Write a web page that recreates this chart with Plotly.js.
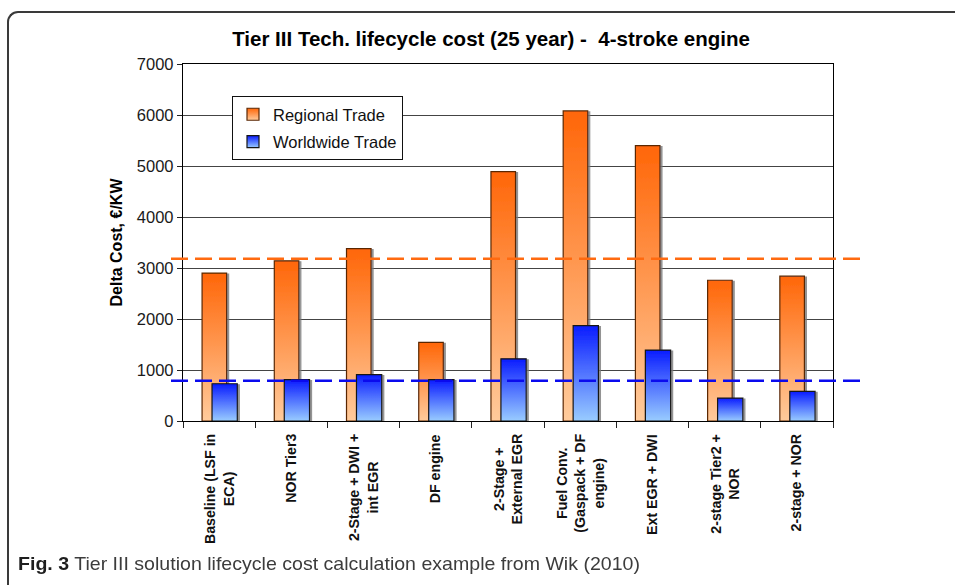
<!DOCTYPE html>
<html>
<head>
<meta charset="utf-8">
<script src="https://cdn.plot.ly/plotly-3.0.1.min.js"></script>
<style>
  html, body { margin: 0; padding: 0; background: #ffffff; }
  #wrap { position: relative; width: 955px; height: 585px; overflow: hidden; background: #fff; }
  #chart { position: absolute; left: 0; top: 0; width: 955px; height: 585px; }
  #frame { position: absolute; left: 7px; top: 11px; width: 1000px; height: 700px;
           border-left: 2px solid #3a3a3a; border-top: 2px solid #3a3a3a;
           border-top-left-radius: 11px; pointer-events: none; }
  #caption { position: absolute; left: 18px; top: 553px; white-space: nowrap;
             font-family: "Liberation Sans Narrow", "Liberation Sans", Arial, sans-serif;
             font-size: 19px; color: #3c3c3c; transform-origin: 0 0; }
  #caption b { color: #1e1e1e; }
</style>
</head>
<body>
<div id="wrap">
  <div id="chart"></div>
  <div id="frame"></div>
  <div id="caption"><b>Fig. 3</b> Tier III solution lifecycle cost calculation example from Wik (2010)</div>
</div>
<script>
// ---- data ----
const categories = ['Baseline (LSF in ECA)', 'NOR Tier3', '2-Stage + DWI + int EGR', 'DF engine',
  '2-Stage + External EGR', 'Fuel Conv. (Gaspack + DF engine)', 'Ext EGR + DWI',
  '2-stage Tier2 + NOR', '2-stage + NOR'];
const tickLabels = ['Baseline (LSF in<br>ECA)', 'NOR Tier3', '2-Stage + DWI +<br>int EGR', 'DF engine',
  '2-Stage +<br>External EGR', 'Fuel Conv.<br>(Gaspack + DF<br>engine)', 'Ext EGR + DWI',
  '2-stage Tier2 +<br>NOR', '2-stage + NOR'];
const seriesNames = ['Regional Trade', 'Worldwide Trade'];
const regional = [2900, 3140, 3380, 1540, 4890, 6080, 5400, 2760, 2840];
const worldwide = [730, 810, 910, 810, 1220, 1870, 1390, 450, 580];
const refLevels = [3180, 790];   // dashed reference lines: regional, worldwide
const yTicks = [0, 1000, 2000, 3000, 4000, 5000, 6000, 7000];

// ---- layout constants ----
const W = 955, H = 585;
const L = 183, R = 833, T = 64, B = 421;
const pw = R - L, ph = B - T;
const px = p => (p - L) / pw;
const py = p => (B - p) / ph;

const FONT = 'Liberation Sans, Arial, Helvetica, sans-serif';

const traces = [
  {
    type: 'bar', name: seriesNames[0], x: categories, y: regional,
    width: 0.34, offset: -0.236, legendgroup: 'a',
    marker: { color: '#ff8a3d', line: { color: '#5a2806', width: 1.2 } }
  },
  {
    type: 'bar', name: seriesNames[1], x: categories, y: worldwide,
    width: 0.35, offset: -0.098, legendgroup: 'b',
    marker: { color: '#4f7dff', line: { color: '#151515', width: 1.2 } }
  }
];

const refColors = ['#ff6a10', '#0a0aee'];
const shapes = refLevels.map((v, i) => ({
  type: 'line', xref: 'paper', yref: 'y',
  x0: px(171), x1: px(866), y0: v, y1: v,
  line: { color: refColors[i], width: 2.6, dash: '17px,7px' },
  layer: 'above'
}));

const annotations = tickLabels.map((t, i) => ({
  xref: 'x', yref: 'paper', x: categories[i], y: py(432),
  xanchor: 'center', yanchor: 'top', text: t, textangle: -90,
  showarrow: false, align: 'center',
  font: { family: FONT, size: 14.2, color: '#111', weight: 700 }
}));

const layout = {
  width: W, height: H,
  margin: { l: L, r: W - R, t: T, b: H - B, pad: 0 },
  paper_bgcolor: 'rgba(0,0,0,0)', plot_bgcolor: '#ffffff',
  barmode: 'overlay',
  showlegend: true,
  title: {
    text: 'Tier III Tech. lifecycle cost (25 year) -\u00a0\u00a04-stroke engine',
    x: 491 / W, xref: 'container', xanchor: 'center',
    y: 1 - 39 / H, yref: 'container', yanchor: 'middle',
    font: { family: FONT, size: 20.5, color: '#000', weight: 700 }
  },
  xaxis: {
    type: 'category', range: [-0.5, 8.5],
    showline: true, linecolor: '#000', linewidth: 1.2, mirror: true,
    ticks: 'outside', tickson: 'boundaries', ticklen: 6, tickcolor: '#222', tickwidth: 1,
    showticklabels: false, showgrid: false, zeroline: false, fixedrange: true
  },
  yaxis: {
    range: [0, 7000], tickvals: yTicks, ticktext: yTicks.map(String),
    showline: true, linecolor: '#000', linewidth: 1.2, mirror: true,
    ticks: 'outside', ticklen: 5, tickcolor: '#222', tickwidth: 1,
    showgrid: true, gridcolor: '#444', gridwidth: 1, zeroline: false,
    tickfont: { family: FONT, size: 16.5, color: '#1a1a1a' },
    title: { text: 'Delta Cost, \u20ac/KW', standoff: 10,
             font: { family: FONT, size: 16, color: '#000', weight: 700 } },
    fixedrange: true
  },
  legend: {
    x: px(232), y: py(96), xanchor: 'left', yanchor: 'top',
    bgcolor: '#ffffff', bordercolor: '#111', borderwidth: 1,
    font: { family: FONT, size: 16.5, color: '#111' },
    tracegroupgap: 3, itemwidth: 30
  },
  shapes: shapes,
  annotations: annotations
};

function addGradients(gd) {
  const svg = gd.querySelector('svg.main-svg');
  if (!svg) return;
  const NS = 'http://www.w3.org/2000/svg';
  let defs = svg.querySelector('defs');
  if (!defs) { defs = document.createElementNS(NS, 'defs'); svg.insertBefore(defs, svg.firstChild); }
  function grad(id, top, bottom) {
    const g = document.createElementNS(NS, 'linearGradient');
    g.setAttribute('id', id);
    g.setAttribute('x1', '0'); g.setAttribute('y1', '0');
    g.setAttribute('x2', '0'); g.setAttribute('y2', '1');
    [[0, top], [1, bottom]].forEach(([o, c]) => {
      const s = document.createElementNS(NS, 'stop');
      s.setAttribute('offset', o); s.setAttribute('stop-color', c);
      g.appendChild(s);
    });
    defs.appendChild(g);
  }
  grad('gradR', '#ff6608', '#ffcb9c');
  grad('gradW', '#0a1cff', '#99ccff');
  const f = document.createElementNS(NS, 'filter');
  f.setAttribute('id', 'barShadow');
  f.setAttribute('x', '-20%'); f.setAttribute('y', '-5%');
  f.setAttribute('width', '150%'); f.setAttribute('height', '115%');
  const ds = document.createElementNS(NS, 'feDropShadow');
  ds.setAttribute('dx', '2'); ds.setAttribute('dy', '1');
  ds.setAttribute('stdDeviation', '0.6');
  ds.setAttribute('flood-color', '#777'); ds.setAttribute('flood-opacity', '0.8');
  f.appendChild(ds); defs.appendChild(f);

  const ids = ['gradR', 'gradW'];
  gd.querySelectorAll('.barlayer .trace.bars').forEach((tr, i) => {
    tr.querySelectorAll('path').forEach(p => {
      p.style.fill = 'url(#' + ids[i] + ')';
      p.setAttribute('filter', 'url(#barShadow)');
    });
  });
  gd.querySelectorAll('.legend .traces').forEach((tr, i) => {
    tr.querySelectorAll('.legendpoints path').forEach(p => {
      p.style.fill = 'url(#' + ids[i] + ')';
    });
  });
}

Plotly.newPlot('chart', traces, layout, { staticPlot: true, displayModeBar: false }).then(gd => {
  addGradients(gd);
});

// fit caption width to the reference's line length
(function () {
  const c = document.getElementById('caption');
  const w = c.getBoundingClientRect().width;
  if (w > 0) c.style.transform = 'scaleX(' + (622 / w) + ')';
})();
</script>
</body>
</html>
